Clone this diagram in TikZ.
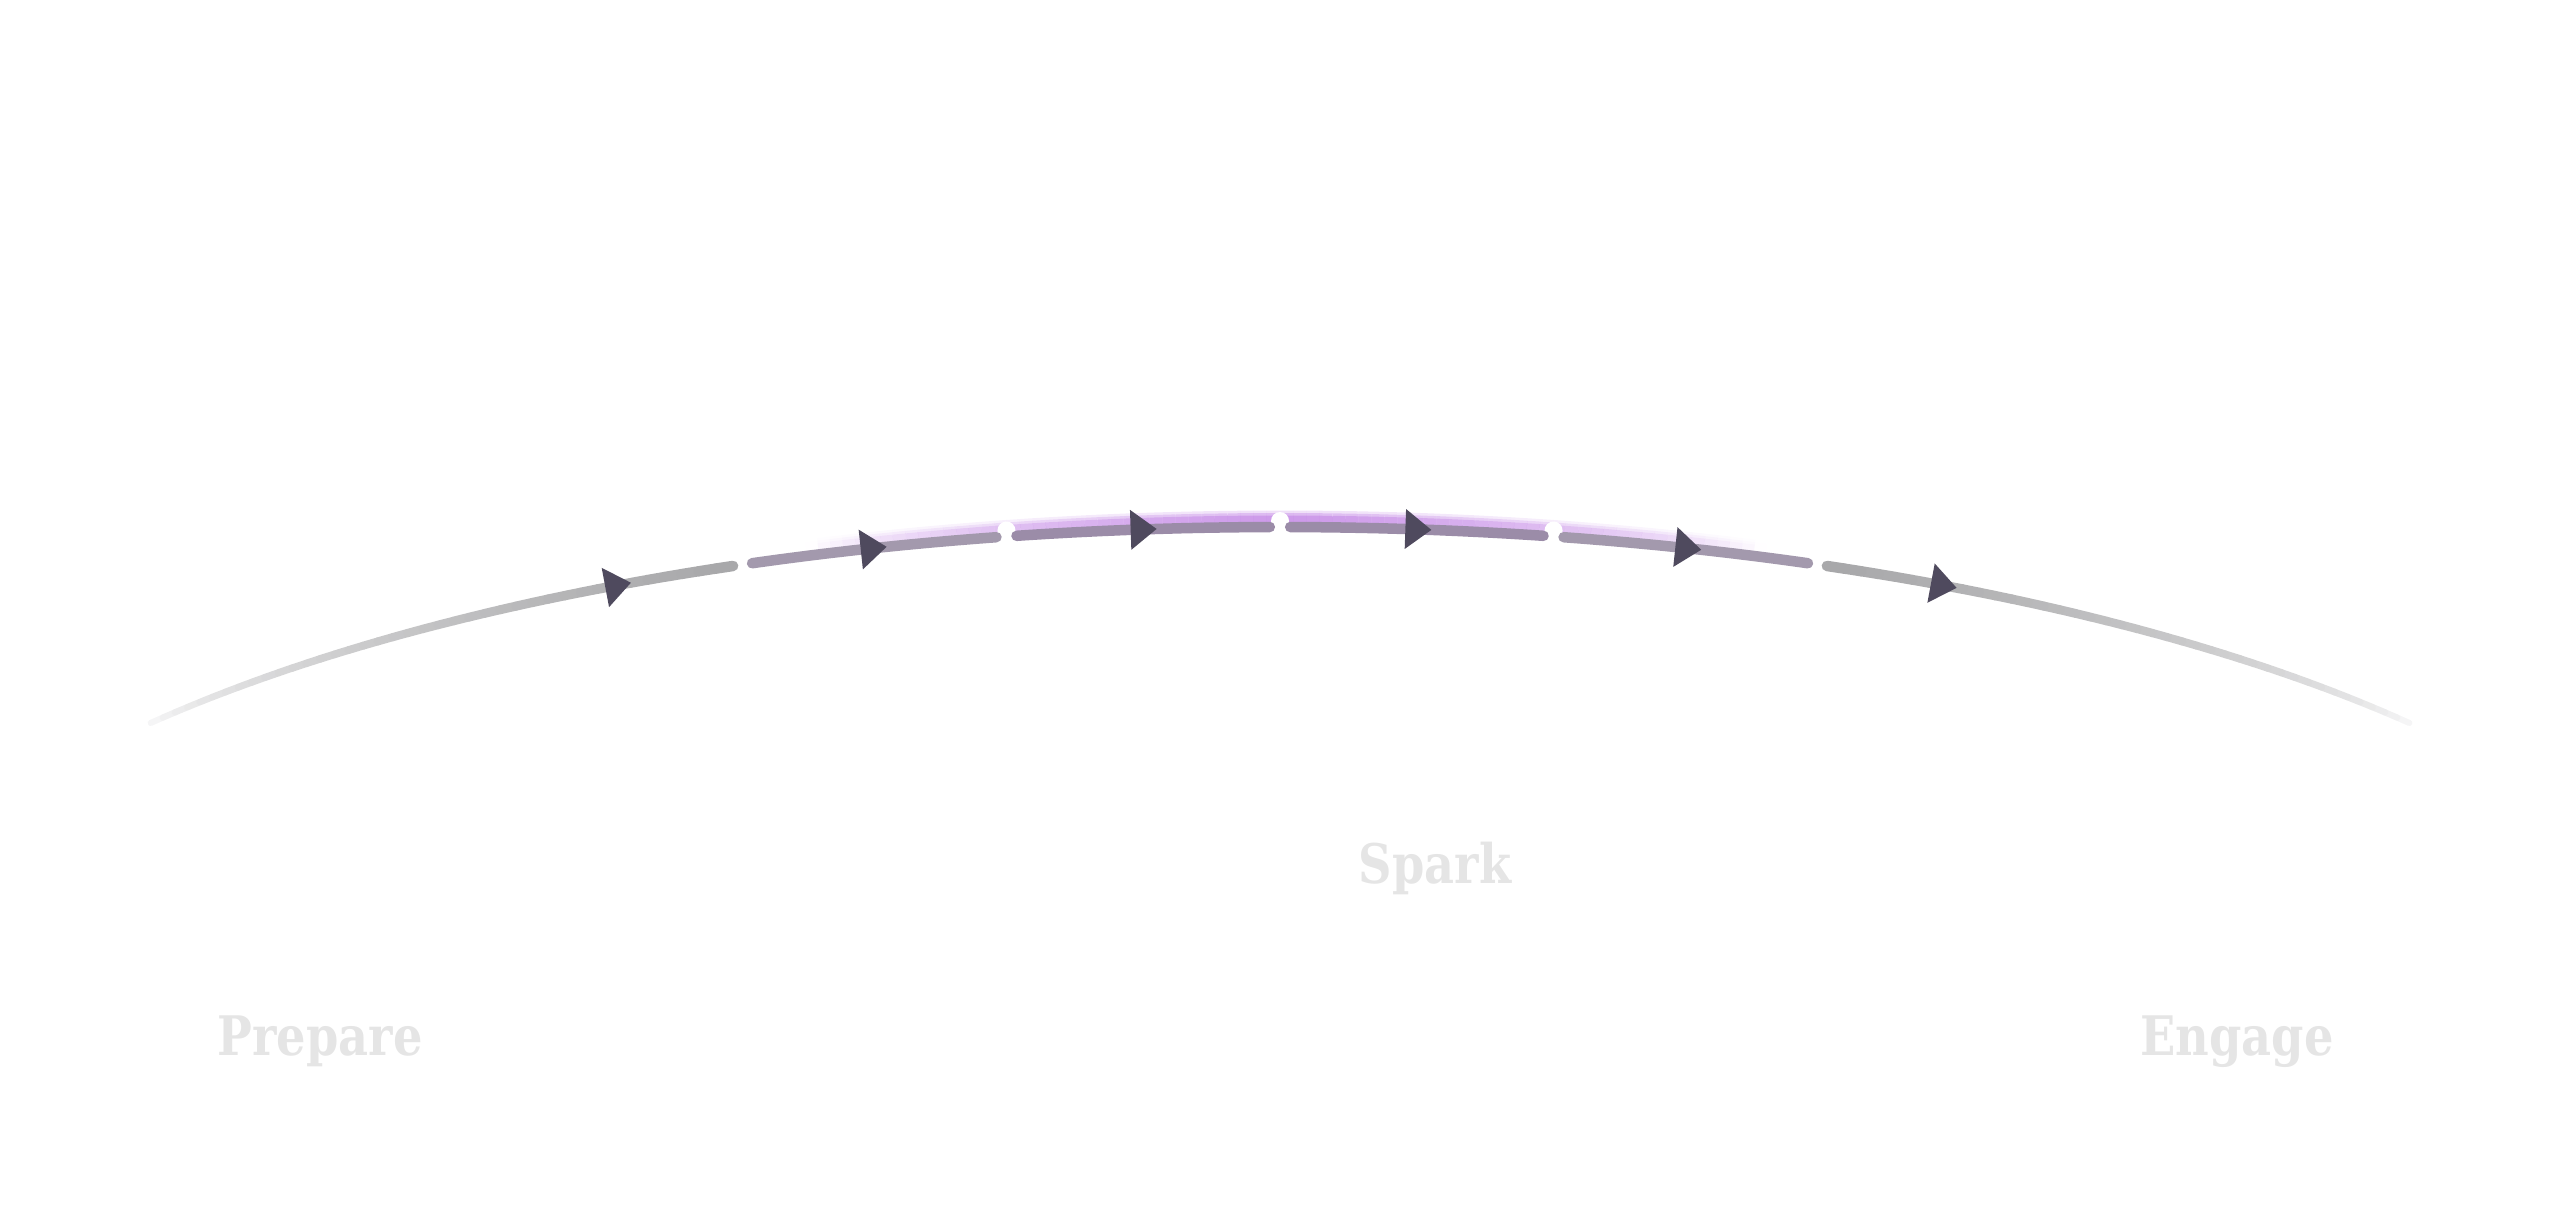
\documentclass[tikz,border=0pt]{standalone}
\usepackage{fontspec}
\usetikzlibrary{positioning}
\newfontfamily\slabfont[FakeStretch=0.85]{DejaVu Serif}
\definecolor{trackgray}{RGB}{168,168,170}
\definecolor{trackmauve}{RGB}{163,153,173}
\definecolor{trackpurple}{RGB}{155,140,168}
\definecolor{glowpurple}{RGB}{192,128,228}
\definecolor{arrowslate}{RGB}{79,74,94}
\definecolor{labelgray}{RGB}{229,229,229}

\begin{document}
\begin{tikzpicture}[
    x=0.01cm, y=-0.01cm,
    track/.style={line width=0.105cm, line cap=round},
    glow/.style={glowpurple, line cap=butt, yshift=0.08cm},
    pointer/.style={fill=arrowslate},
    phase/.style={font=\slabfont\bfseries\fontsize{15.5}{18}\selectfont, text=labelgray, anchor=base, inner sep=0pt}
]

% Canvas
\useasboundingbox (0,0) rectangle (2560,1221);

% Glow above the middle of the arc
\foreach \i in {0,...,79} {
    \pgfmathsetmacro{\ta}{110.5-\i*0.5125}
    \pgfmathsetmacro{\tb}{\ta-0.5125}
    \pgfmathsetmacro{\ga}{max(0,1-abs(\ta-90)/19)^0.8}
    \pgfmathsetmacro{\oa}{0.25*\ga}
    \pgfmathsetmacro{\ob}{0.4*\ga}
    \pgfmathsetmacro{\oc}{0.55*\ga}
    \draw[glow, line width=0.17cm, opacity=\oa] plot[domain=\ta:\tb, samples=3] ({1280+1460*cos(\x)}, {1062-535*sin(\x)});
    \draw[glow, line width=0.12cm, opacity=\ob] plot[domain=\ta:\tb, samples=3] ({1280+1460*cos(\x)}, {1062-535*sin(\x)});
    \draw[glow, line width=0.07cm, opacity=\oc] plot[domain=\ta:\tb, samples=3] ({1280+1460*cos(\x)}, {1062-535*sin(\x)});
}

% Breaks between the steps
\foreach \g in {111.6,100.8,90,79.2,68.4}
    \fill[white] ({1280+1460*cos(\g)}, {1062-535*sin(\g)-6}) circle[radius=9];

% Outer steps, fading out
\foreach \i in {0,...,39} {
    \pgfmathsetmacro{\f}{\i/39}
    \pgfmathsetmacro{\shade}{100*\f^0.6}
    \pgfmathsetmacro{\lw}{0.06+0.045*\f}
    \pgfmathsetmacro{\ta}{141.4-\i*0.735}
    \pgfmathsetmacro{\tb}{\ta-0.735}
    \draw[track, line width=\lw cm, trackgray!\shade!white] plot[domain=\ta:\tb, samples=3] ({1280+1460*cos(\x)}, {1062-535*sin(\x)});
    \pgfmathsetmacro{\tc}{38.6+\i*0.735}
    \pgfmathsetmacro{\td}{\tc+0.735}
    \draw[track, line width=\lw cm, trackgray!\shade!white] plot[domain=\tc:\td, samples=3] ({1280+1460*cos(\x)}, {1062-535*sin(\x)});
}

% Middle steps
\draw[track, trackmauve] plot[domain=111.2:101.2, samples=30] ({1280+1460*cos(\x)}, {1062-535*sin(\x)});
\draw[track, trackpurple] plot[domain=100.4:90.4, samples=30] ({1280+1460*cos(\x)}, {1062-535*sin(\x)});
\draw[track, trackpurple] plot[domain=89.6:79.6, samples=30] ({1280+1460*cos(\x)}, {1062-535*sin(\x)});
\draw[track, trackmauve] plot[domain=78.8:68.8, samples=30] ({1280+1460*cos(\x)}, {1062-535*sin(\x)});

% Arrowheads
\foreach \t in {117,106.2,95.4,84.6,73.8,63} {
    \pgfmathsetmacro{\ang}{atan2(-535*cos(\t), 1460*sin(\t))}
    \fill[pointer, shift={({1280+1460*cos(\t)}, {1062-535*sin(\t)})}, rotate=\ang] (-12,-20) -- (14,0) -- (-12,20) -- cycle;
}

% Labels
\node[phase] (spark) at (1435,883) {Spark};
\node[phase] (prepare) at (320,1055) {Prepare};
\node[phase] (engage) at (2237,1055) {Engage};

\end{tikzpicture}
\end{document}
